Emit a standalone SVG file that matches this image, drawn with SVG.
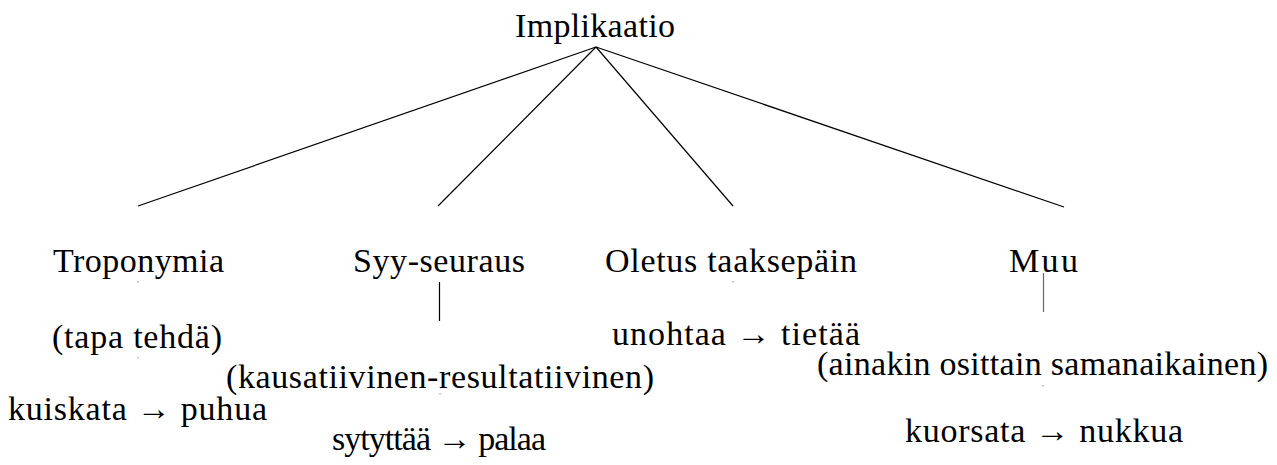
<svg xmlns="http://www.w3.org/2000/svg" width="1277" height="465" viewBox="0 0 1277 465">
  <style>
    .lbl { font-family: "Liberation Serif", "DejaVu Serif", serif; font-size: 34px; fill: #000; text-anchor: middle; }
    .edge { stroke: #000; stroke-width: 1.2; fill: none; }
    .stub { stroke: #666; stroke-width: 1.2; fill: none; }
    .tick { stroke: #999; stroke-width: 1.2; fill: none; }
  </style>
  <rect width="1277" height="465" fill="#fff"/>

  <g id="connectors">
    <line class="edge" x1="596" y1="47" x2="138" y2="206"/>
    <line class="edge" x1="596" y1="47" x2="438" y2="206"/>
    <line class="edge" x1="596" y1="47" x2="733" y2="206"/>
    <line class="edge" x1="596" y1="47" x2="1064" y2="207"/>
    <line class="edge" x1="439.5" y1="282" x2="439.5" y2="321"/>
    <line class="stub" x1="1043.5" y1="273" x2="1043.5" y2="312"/>
    <line class="tick" x1="138" y1="281" x2="138" y2="282.5"/>
    <line class="tick" x1="138" y1="357" x2="138" y2="358.5"/>
    <line class="tick" x1="440" y1="393" x2="440" y2="394.5"/>
    <line class="tick" x1="733" y1="281" x2="733" y2="282.5"/>
    <line class="tick" x1="1043" y1="385" x2="1043" y2="386.5"/>
  </g>

  <g id="root">
    <text class="lbl" x="595" y="37" textLength="160">Implikaatio</text>
  </g>

  <g id="troponymia">
    <text class="lbl" x="138.5" y="272" textLength="171">Troponymia</text>
    <text class="lbl" x="137" y="348" textLength="170">(tapa tehdä)</text>
    <text class="lbl" x="137.5" y="420" textLength="259">kuiskata → puhua</text>
  </g>

  <g id="syy-seuraus">
    <text class="lbl" x="439" y="272" textLength="172">Syy-seuraus</text>
    <text class="lbl" x="440" y="388" textLength="428">(kausatiivinen-resultatiivinen)</text>
    <text class="lbl" x="439" y="450" textLength="214">sytyttää → palaa</text>
  </g>

  <g id="oletus-taaksepain">
    <text class="lbl" x="731" y="272" textLength="252">Oletus taaksepäin</text>
    <text class="lbl" x="736" y="345" textLength="248">unohtaa → tietää</text>
  </g>

  <g id="muu">
    <text class="lbl" x="1043.5" y="272" textLength="69">Muu</text>
    <text class="lbl" x="1042.5" y="375" textLength="451">(ainakin osittain samanaikainen)</text>
    <text class="lbl" x="1044" y="442" textLength="278">kuorsata → nukkua</text>
  </g>
</svg>
